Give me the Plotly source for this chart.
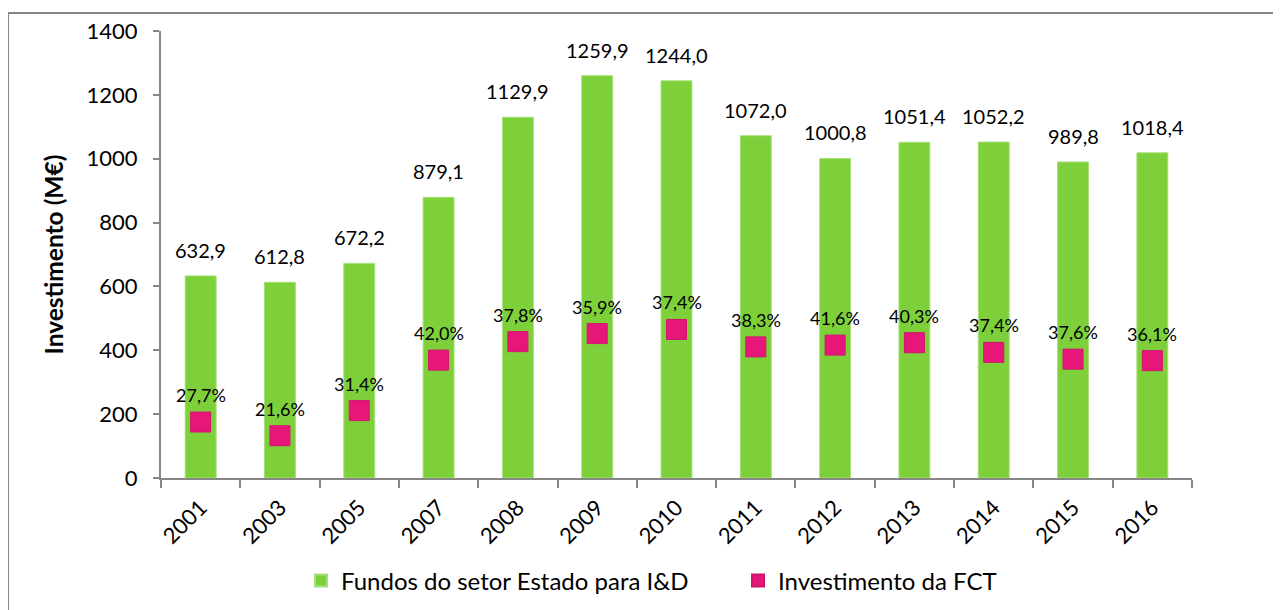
import plotly.graph_objects as go

years = ["2001", "2003", "2005", "2007", "2008", "2009", "2010", "2011", "2012", "2013", "2014", "2015", "2016"]
fundos = [632.9, 612.8, 672.2, 879.1, 1129.9, 1259.9, 1244.0, 1072.0, 1000.8, 1051.4, 1052.2, 989.8, 1018.4]
fct = [175.3, 132.4, 211.1, 369.2, 427.1, 452.3, 465.3, 410.6, 416.3, 423.7, 393.5, 372.2, 367.6]
fct_pct = ["27,7%", "21,6%", "31,4%", "42,0%", "37,8%", "35,9%", "37,4%", "38,3%", "41,6%", "40,3%", "37,4%", "37,6%", "36,1%"]
fundos_lbl = [f"{v:.1f}".replace(".", ",") for v in fundos]

FONT = "Lato, 'Open Sans', sans-serif"
GREEN = "#7ED03B"
PINK = "#E7177A"

fig = go.Figure()
fig.add_trace(go.Bar(
    x=years, y=fundos, name="Fundos do setor Estado para I&D",
    marker=dict(color=GREEN, line=dict(color="#A6E07A", width=1)),
    width=0.39,
))
fig.add_trace(go.Scatter(
    x=years, y=fct, name="Investimento da FCT",
    mode="markers",
    marker=dict(symbol="square", size=20, color=PINK, line=dict(color="#D0156C", width=1)),
))

annotations = []
for i, (v, t) in enumerate(zip(fundos, fundos_lbl)):
    annotations.append(dict(x=i, y=v, xref="x", yref="y", text=t, showarrow=False,
                            yanchor="bottom", yshift=12, font=dict(size=20, family=FONT, color="black")))
for i, (v, t) in enumerate(zip(fct, fct_pct)):
    annotations.append(dict(x=i, y=v, xref="x", yref="y", text=t, showarrow=False,
                            yanchor="bottom", yshift=14, font=dict(size=18, family=FONT, color="black")))

# page offset (browser body margin) compensation
OX, OY = 8, 8
W, H = 1281 - OX, 610 - OY
plot_left, plot_right, plot_top, plot_bottom = 161 - OX, 1192 - OX, 31 - OY, 478 - OY
L, R, T, B = plot_left, W - plot_right, plot_top, H - plot_bottom
pw, ph = W - L - R, H - T - B

def px_x(p):
    return (p - OX - L) / pw

def px_y(p):
    return (H - B - (p - OY)) / ph

fig.update_layout(
    width=W, height=H,
    margin=dict(l=L, r=R, t=T, b=B, autoexpand=False),
    paper_bgcolor="white", plot_bgcolor="white",
    font=dict(family=FONT, color="black"),
    showlegend=True,
    legend=dict(orientation="h", xref="container", yref="container",
                x=(301 - OX) / W, xanchor="left", y=1 - (581 - OY) / H, yanchor="middle",
                font=dict(size=24, family=FONT), itemsizing="constant", traceorder="normal",
                entrywidth=392, tracegroupgap=0),
    xaxis=dict(type="category", range=[-0.5, len(years) - 0.5], showline=True, linecolor="#868686", linewidth=2,
               ticks="outside", ticklen=8, tickcolor="#868686", tickwidth=2, tickson="boundaries",
               tickangle=-45, tickfont=dict(size=22, family=FONT), showgrid=False, automargin=False,
               ticklabelstandoff=6),
    yaxis=dict(range=[0, 1400], dtick=200, showline=True, linecolor="#868686", linewidth=2,
               ticks="outside", ticklen=6, tickcolor="#868686", tickwidth=2,
               tickfont=dict(size=22, family=FONT), showgrid=False, zeroline=False, automargin=False,
               ticklabelstandoff=11,
               title=dict(text="<b>Investimento (M€)</b>", font=dict(size=24.5, family=FONT), standoff=16)),
    annotations=annotations,
    shapes=[dict(type="rect", xref="paper", yref="paper",
                 x0=px_x(8), x1=px_x(1300), y0=px_y(640), y1=px_y(13),
                 line=dict(color="#868686", width=2), fillcolor="rgba(0,0,0,0)", layer="below")],
)

fig.write_html("out.html")
